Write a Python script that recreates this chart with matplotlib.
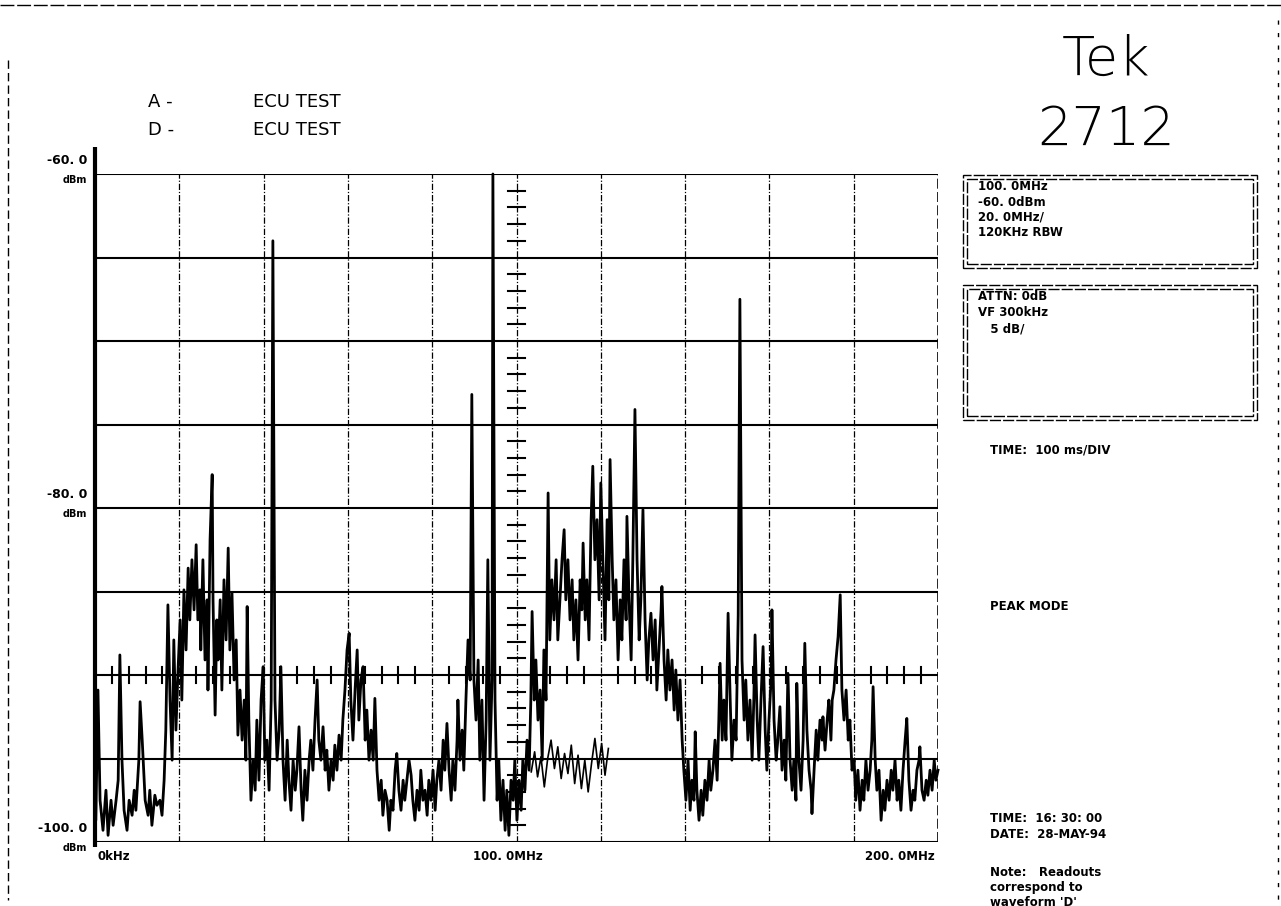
import matplotlib
matplotlib.use('Agg')
import matplotlib.pyplot as plt
import numpy as np
from matplotlib.lines import Line2D
from matplotlib.patches import Rectangle

W, H = 1281, 906

# screen scale of the analyser: 0..200 MHz, -100..-60 dBm, 5 dB/div
span_mhz = (0, 200)
level_dbm = (-100, -60)
freq_labels = ["0kHz", "100. 0MHz", "200. 0MHz"]
level_labels = {-60: "-60. 0", -80: "-80. 0", -100: "-100. 0"}

# trace D as (MHz, dBm) vertices
band_000_020 = [
    (0.0, -90.5), (0.2, -98.7), (0.7, -90.9), (1.2, -97.5), (1.9, -99.3), (2.6, -96.9),
    (3.1, -99.6), (3.8, -97.5), (4.3, -99.0), (5.0, -97.5), (5.5, -96.3), (5.9, -88.8),
    (6.4, -95.1), (6.9, -98.1), (7.6, -99.3), (8.1, -97.5), (8.8, -98.4), (9.3, -96.9),
    (9.7, -98.1), (10.4, -95.1), (10.7, -91.6), (11.2, -93.9), (11.9, -97.5), (12.6, -98.4),
    (13.0, -96.9), (13.5, -99.0), (14.2, -97.2), (14.7, -97.8), (15.4, -97.5), (15.9, -98.4),
    (16.4, -96.3), (16.8, -93.3), (17.3, -85.8), (17.8, -91.5), (18.3, -95.1), (18.7, -87.9),
    (19.2, -93.3), (19.7, -89.7),
]
band_020_040 = [
    (20.2, -86.7), (20.6, -91.5), (21.1, -84.9), (21.6, -88.5), (22.1, -83.6), (22.5, -86.7),
    (23.0, -83.1), (23.5, -86.1), (24.0, -82.2), (24.4, -86.7), (24.9, -84.9), (25.1, -88.5),
    (25.6, -83.1), (26.1, -89.1), (26.6, -85.5), (26.8, -90.9), (27.3, -81.9), (27.8, -78.0),
    (28.0, -85.5), (28.5, -92.4), (28.9, -86.7), (29.2, -89.1), (29.7, -85.5), (30.1, -90.9),
    (30.6, -84.3), (31.1, -87.9), (31.6, -82.4), (32.0, -88.5), (32.5, -85.1), (33.0, -90.3),
    (33.5, -87.9), (33.9, -93.6), (34.4, -90.9), (34.9, -93.9), (35.4, -91.5), (35.8, -95.1),
    (36.1, -85.9), (36.5, -92.7), (37.0, -97.5), (37.5, -95.1), (38.0, -96.9), (38.4, -92.7),
    (38.9, -96.3), (39.4, -91.5), (39.9, -89.5),
]
band_040_060 = [
    (40.3, -95.1), (40.8, -93.9), (41.3, -96.9), (41.8, -91.5), (42.2, -64.0), (42.7, -91.5),
    (43.2, -95.1), (43.7, -93.3), (44.1, -89.5), (44.6, -95.1), (45.1, -97.5), (45.6, -93.9),
    (46.0, -96.3), (46.5, -98.1), (47.0, -95.1), (47.5, -96.9), (47.9, -95.7), (48.4, -93.1),
    (48.9, -96.9), (49.3, -98.7), (49.8, -95.7), (50.3, -97.5), (50.8, -95.1), (51.2, -93.9),
    (51.7, -95.7), (52.2, -92.7), (52.7, -90.3), (53.1, -93.9), (53.6, -95.1), (54.1, -93.1),
    (54.6, -95.7), (55.0, -94.5), (55.5, -96.9), (56.0, -95.1), (56.5, -96.3), (56.9, -94.2),
    (57.4, -95.7), (57.9, -93.6), (58.4, -95.1), (58.8, -92.7), (59.3, -90.9), (59.8, -88.5),
]
band_060_080 = [
    (60.3, -87.5), (60.7, -91.5), (61.2, -93.9), (61.7, -90.9), (62.2, -88.5), (62.6, -92.7),
    (63.1, -90.3), (63.6, -89.5), (64.1, -93.9), (64.5, -92.1), (65.0, -95.1), (65.5, -93.3),
    (66.0, -95.1), (66.4, -91.4), (66.9, -95.7), (67.4, -97.5), (67.9, -96.3), (68.3, -98.4),
    (68.8, -96.9), (69.3, -97.5), (69.8, -99.3), (70.2, -97.5), (70.7, -98.1), (71.2, -95.7),
    (71.6, -94.7), (72.1, -96.9), (72.6, -98.1), (73.1, -96.3), (73.5, -97.5), (74.0, -96.3),
    (74.5, -95.1), (75.0, -96.0), (75.4, -97.5), (75.9, -98.7), (76.4, -96.9), (76.9, -98.1),
    (77.3, -95.7), (77.8, -97.5), (78.3, -96.9), (78.8, -98.4), (79.2, -96.3), (79.7, -97.5),
]
band_080_100 = [
    (80.2, -95.7), (80.7, -98.1), (81.1, -96.3), (81.6, -95.1), (82.1, -96.9), (82.6, -93.9),
    (83.0, -95.7), (83.5, -92.9), (84.0, -95.7), (84.5, -97.5), (84.9, -95.1), (85.4, -96.9),
    (85.9, -93.9), (86.1, -91.5), (86.6, -95.1), (87.1, -93.3), (87.5, -95.7), (88.0, -91.5),
    (88.5, -87.9), (89.0, -90.3), (89.4, -73.2), (89.9, -90.3), (90.4, -92.7), (90.9, -89.1),
    (91.3, -95.1), (91.8, -91.5), (92.3, -97.5), (92.8, -92.7), (93.2, -83.1), (93.7, -95.1),
    (94.2, -90.3), (94.4, -60.0), (94.9, -91.5), (95.4, -97.5), (95.8, -95.1), (96.3, -98.7),
    (96.8, -96.3), (97.3, -99.3), (97.7, -96.9), (98.2, -99.6), (98.7, -96.3), (99.2, -97.5),
    (99.6, -95.1),
]
band_100_120 = [
    (100.1, -98.7), (100.6, -96.3), (101.1, -98.1), (101.5, -95.1), (102.0, -96.9), (102.5, -93.9),
    (103.0, -95.7), (103.4, -91.5), (103.7, -86.2), (104.2, -91.5), (104.6, -89.1), (105.1, -92.7),
    (105.6, -90.9), (106.1, -95.1), (106.5, -88.5), (107.0, -91.5), (107.5, -79.1), (107.9, -87.9),
    (108.4, -84.3), (108.9, -86.7), (109.4, -83.1), (109.8, -87.9), (110.3, -85.5), (110.8, -83.1),
    (111.3, -81.3), (111.7, -85.5), (112.2, -83.1), (112.7, -86.7), (113.2, -84.3), (113.6, -87.9),
    (114.1, -85.5), (114.6, -89.1), (115.1, -84.3), (115.5, -86.1), (115.8, -82.1), (116.3, -86.7),
    (116.7, -84.3), (117.2, -87.9), (117.7, -80.7), (118.1, -77.5), (118.6, -83.1), (119.1, -80.7),
    (119.6, -85.5),
]
band_120_140 = [
    (120.0, -78.5), (120.5, -83.1), (121.0, -87.9), (121.5, -80.7), (121.9, -85.5), (122.2, -77.1),
    (122.7, -83.1), (123.1, -86.7), (123.6, -84.3), (124.1, -89.1), (124.6, -85.5), (125.0, -87.9),
    (125.5, -83.1), (126.0, -86.7), (126.2, -80.5), (126.7, -85.5), (127.2, -89.1), (127.6, -83.1),
    (128.1, -74.1), (128.6, -83.1), (129.1, -87.9), (129.5, -85.5), (130.0, -80.1), (130.5, -86.7),
    (131.0, -90.3), (131.4, -87.9), (131.9, -86.3), (132.4, -89.1), (132.9, -86.7), (133.3, -90.9),
    (133.8, -88.5), (134.3, -86.1), (134.5, -84.7), (135.0, -89.1), (135.5, -91.5), (135.9, -88.5),
    (136.4, -90.9), (136.9, -89.1), (137.4, -92.1), (137.8, -89.7), (138.3, -92.7), (138.8, -90.3),
    (139.3, -93.9), (139.7, -95.7),
]
band_140_160 = [
    (140.2, -97.5), (140.7, -95.1), (141.2, -98.1), (141.6, -96.3), (142.1, -97.5), (142.4, -93.4),
    (142.8, -96.9), (143.3, -98.7), (143.8, -96.9), (144.2, -98.4), (144.7, -96.3), (145.2, -97.5),
    (145.7, -95.1), (146.1, -96.9), (146.6, -95.7), (147.1, -93.9), (147.6, -96.3), (148.0, -92.7),
    (148.3, -89.3), (148.8, -93.9), (149.2, -91.5), (149.7, -93.9), (150.2, -86.3), (150.7, -91.5),
    (151.1, -95.1), (151.6, -92.7), (152.1, -93.9), (152.6, -86.4), (153.0, -67.5), (153.5, -89.1),
    (154.0, -92.7), (154.4, -90.3), (154.9, -93.9), (155.4, -91.5), (155.9, -95.1), (156.3, -91.5),
    (156.6, -87.6), (157.1, -92.7), (157.5, -95.1), (158.0, -91.5), (158.5, -88.3), (159.0, -93.3),
    (159.4, -95.7), (159.9, -92.7),
]
band_160_180 = [
    (160.4, -90.3), (160.6, -86.1), (161.1, -92.7), (161.6, -95.1), (162.0, -93.9), (162.5, -91.9),
    (163.0, -95.7), (163.5, -93.9), (163.9, -96.3), (164.4, -89.9), (164.9, -95.1), (165.4, -96.9),
    (165.8, -95.1), (166.3, -97.5), (166.5, -90.5), (167.0, -95.1), (167.5, -96.9), (168.0, -93.9),
    (168.4, -88.1), (168.9, -93.3), (169.4, -95.7), (169.9, -96.9), (170.1, -98.3), (170.6, -95.7),
    (171.1, -93.3), (171.5, -95.1), (172.0, -92.7), (172.5, -93.9), (172.7, -92.5), (173.2, -94.5),
    (173.7, -92.7), (174.1, -91.5), (174.6, -93.9), (174.9, -91.5), (175.3, -90.9), (175.8, -89.1),
    (176.3, -87.7), (176.8, -85.2), (177.2, -90.9), (177.7, -92.7), (178.2, -90.9), (178.7, -93.9),
    (179.1, -92.7), (179.6, -95.7),
]
band_180_200 = [
    (180.1, -95.1), (180.5, -97.5), (181.0, -95.7), (181.5, -98.1), (182.0, -96.3), (182.4, -97.5),
    (182.9, -95.1), (183.4, -96.9), (183.9, -95.7), (184.3, -93.9), (184.6, -90.7), (185.1, -95.1),
    (185.5, -96.9), (186.0, -95.7), (186.5, -98.7), (187.0, -96.9), (187.4, -98.1), (187.9, -96.3),
    (188.4, -97.5), (188.9, -95.7), (189.3, -96.9), (189.8, -95.1), (190.3, -97.5), (190.7, -96.3),
    (191.2, -98.1), (191.7, -95.7), (192.2, -93.9), (192.6, -92.6), (193.1, -96.3), (193.6, -98.1),
    (194.1, -96.9), (194.5, -97.5), (195.0, -95.7), (195.5, -95.1), (195.7, -94.3), (196.2, -96.9),
    (196.7, -97.5), (197.2, -96.3), (197.6, -97.2), (198.1, -95.7), (198.6, -96.9), (199.1, -95.1),
    (199.5, -96.3), (200.0, -95.7),
]

# trace A, where it shows apart from D (below the 105-125 MHz hump)
trace_a = [
    (103.5, -95.8), (104.3, -94.6), (105.0, -96.1), (105.8, -94.9), (106.6, -96.7), (107.4, -95.0),
    (108.2, -93.9), (109.0, -95.6), (109.8, -94.3), (110.6, -96.2), (111.4, -94.7), (112.2, -95.9),
    (113.0, -94.2), (113.8, -96.5), (114.6, -94.8), (115.4, -96.8), (116.2, -95.1), (117.0, -97.0),
    (117.8, -95.3), (118.6, -93.8), (119.4, -95.6), (120.2, -94.1), (121.0, -96.0), (121.8, -94.4),
]

readout_top = ["100. 0MHz", "-60. 0dBm", "20. 0MHz/", "120KHz RBW"]
readout_mid = ["ATTN: 0dB", "VF 300kHz", "   5 dB/"]
time_div = "TIME:  100 ms/DIV"
mode_text = "PEAK MODE"
stamp = ["TIME:  16: 30: 00", "DATE:  28-MAY-94"]
note = ["Note:   Readouts", "correspond to", "waveform 'D'"]

trace = np.array(band_000_020 + band_020_040 + band_040_060 + band_060_080 + band_080_100
                 + band_100_120 + band_120_140 + band_140_160 + band_160_180 + band_180_200)
trace_a = np.array(trace_a)

fig = plt.figure(figsize=(W / 100, H / 100), dpi=100)
fig.patch.set_facecolor('white')


def fx(px):
    return px / W


def fy(py):
    return 1 - py / H


# graticule
ax = fig.add_axes([fx(95), fy(842), fx(938) - fx(95), fy(174) - fy(842)])
ax.set_xlim(*span_mhz)
ax.set_ylim(*level_dbm)
ax.axis('off')

for lvl in np.arange(level_dbm[0], level_dbm[1] + 1, 5):
    ax.axhline(lvl, color='black', lw=1.5, zorder=1)
for f in np.arange(20, 200, 20):
    ax.axvline(f, color='black', lw=0.9, ls=(0, (5, 1.5, 1, 1.5)), zorder=1)
ax.axvline(200, color='black', lw=1.2, ls=(0, (6, 2)), zorder=1)
ax.plot([0, 0], [-100.3, -58.4], color='black', lw=3, clip_on=False, solid_capstyle='butt')

# minor marks on the -90 dBm line and the centre line
for f in np.arange(4, 200, 4):
    if f % 20:
        ax.plot([f, f], [-90.5, -89.5], color='black', lw=1.5, zorder=2)
for lvl in np.arange(-99, -60, 1):
    if lvl % 5:
        ax.plot([98.1, 101.9], [lvl, lvl], color='black', lw=1.5, zorder=2)

ax.plot(trace_a[:, 0], trace_a[:, 1], color='black', lw=1.2, zorder=3)
ax.plot(trace[:, 0], trace[:, 1], color='black', lw=2.0, zorder=3, clip_on=False)

mono = dict(family='DejaVu Sans', weight='bold', color='black')
for lvl, lab in level_labels.items():
    ax.annotate(lab, xy=(0, lvl), xycoords=('axes fraction', 'data'), xytext=(-8, 13),
                textcoords='offset pixels', ha='right', va='center', fontsize=9, **mono)
    ax.annotate("dBm", xy=(0, lvl), xycoords=('axes fraction', 'data'), xytext=(-8, -6),
                textcoords='offset pixels', ha='right', va='center', fontsize=7, **mono)

ax.annotate(freq_labels[0], xy=(span_mhz[0], 0), xycoords=('data', 'axes fraction'), xytext=(2, -14),
            textcoords='offset pixels', ha='left', va='center', fontsize=8.5, **mono)
ax.annotate(freq_labels[1], xy=(98, 0), xycoords=('data', 'axes fraction'), xytext=(0, -14),
            textcoords='offset pixels', ha='center', va='center', fontsize=8.5, **mono)
ax.annotate(freq_labels[2], xy=(span_mhz[1], 0), xycoords=('data', 'axes fraction'), xytext=(-3, -14),
            textcoords='offset pixels', ha='right', va='center', fontsize=8.5, **mono)

# header
hdr = dict(family=['Liberation Sans Narrow', 'DejaVu Sans'], fontsize=13, color='black', va='center')
fig.text(fx(148), fy(102), "A -", **hdr)
fig.text(fx(253), fy(102), "ECU TEST", **hdr)
fig.text(fx(148), fy(130), "D -", **hdr)
fig.text(fx(253), fy(130), "ECU TEST", **hdr)

thin = dict(family='DejaVu Sans', weight='ultralight', fontsize=39, color='black', ha='center', va='center')
fig.text(fx(1106), fy(60), "Tek", **thin)
fig.text(fx(1106), fy(130), "2712", **thin)

# readout boxes
for top, bot in ((175, 268), (285, 420)):
    for off in (0, 4):
        fig.patches.append(Rectangle((fx(963 + off), fy(bot - off)), fx(1257 - off) - fx(963 + off),
                                     fy(top + off) - fy(bot - off), transform=fig.transFigure,
                                     fill=False, ec='black', lw=1.0, ls=(0, (8, 1.5))))

small = dict(fontsize=8.5, va='center', ha='left', **mono)
for i, s in enumerate(readout_top):
    fig.text(fx(978), fy(187 + 15 * i), s, **small)
for i, s in enumerate(readout_mid):
    fig.text(fx(978), fy(297 + 16 * i), s, **small)
fig.text(fx(990), fy(450), time_div, **small)
fig.text(fx(990), fy(607), mode_text, **small)
for i, s in enumerate(stamp):
    fig.text(fx(990), fy(818 + 16 * i), s, **small)
for i, s in enumerate(note):
    fig.text(fx(990), fy(872 + 15 * i), s, **small)

# page frame of the printout
fig.lines.append(Line2D([0, 1], [fy(5), fy(5)], transform=fig.transFigure, color='black', lw=1, ls=(0, (10, 2))))
fig.lines.append(Line2D([fx(8), fx(8)], [fy(60), fy(900)], transform=fig.transFigure, color='black', lw=1, ls=(0, (6, 3))))
fig.lines.append(Line2D([fx(1278), fx(1278)], [fy(20), fy(900)], transform=fig.transFigure, color='black', lw=1, ls=(0, (3, 6))))

fig.savefig('out.png', dpi=100, facecolor='white')
